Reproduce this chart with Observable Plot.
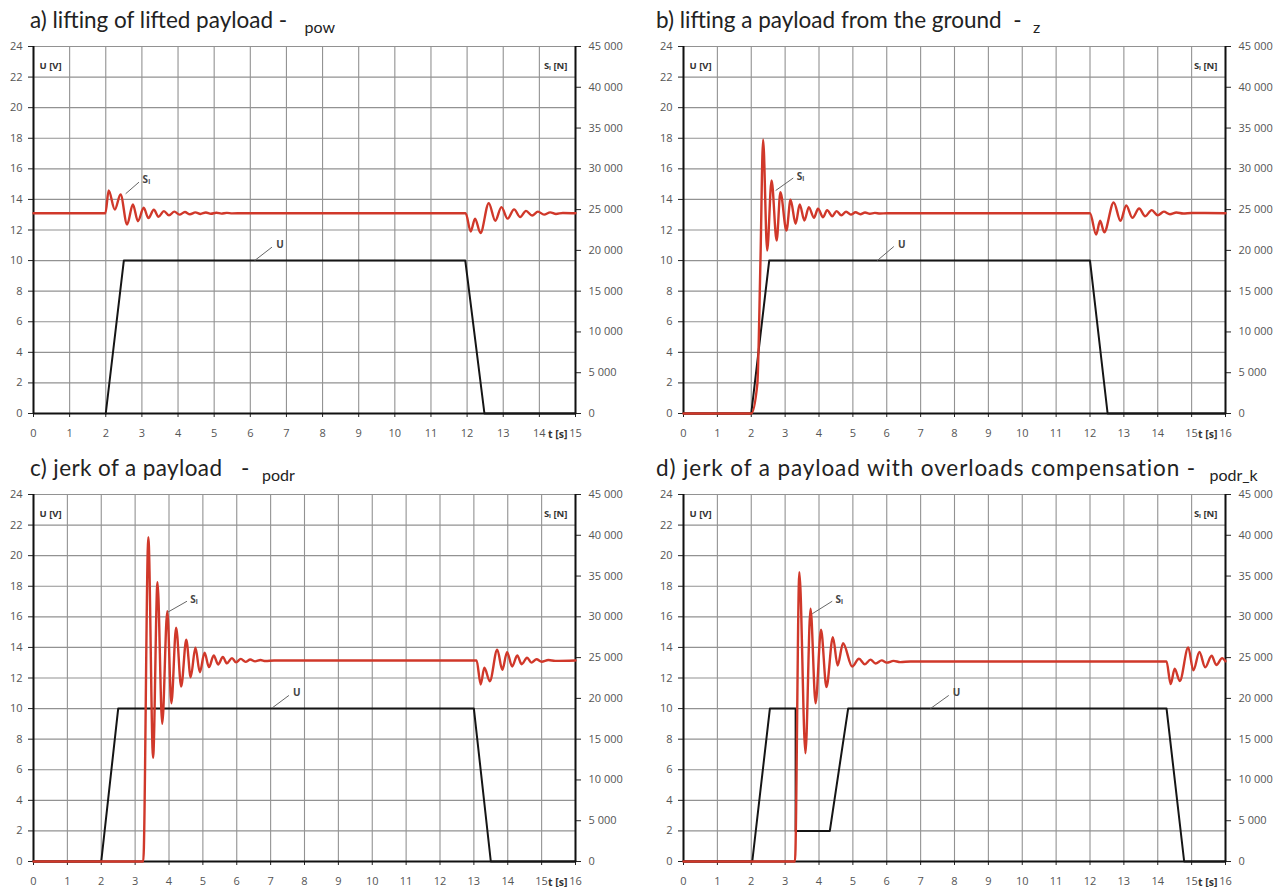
<!DOCTYPE html>
<html>
<head>
<meta charset="utf-8">
<script src="https://cdn.jsdelivr.net/npm/d3@7"></script>
<script src="https://cdn.jsdelivr.net/npm/@observablehq/plot@0.6"></script>
<style>
  html, body { margin: 0; padding: 0; background: #fff; }
  #root { position: relative; width: 1280px; height: 887px; overflow: hidden; }
  .cell { position: absolute; width: 640px; height: 448px; }
  .title { position: absolute; top: 8px; font-family: Lato, "Open Sans", sans-serif; font-size: 22.5px; line-height: 23px; color: #222; white-space: pre; }
  .title sub { font-size: 16px; vertical-align: -5px; letter-spacing: 0; }
  .cell svg { position: absolute; left: 0; top: 36px; overflow: visible; }
</style>
</head>
<body>
<div id="root"></div>
<script>
// ---------- Data ----------
// Panel a) lifting of lifted payload (x 0..15)
const aS_t = [0, 1.99, 2.08, 2.25, 2.41, 2.59, 2.75, 2.89, 3.05, 3.18, 3.33, 3.46, 3.61, 3.75, 3.9, 4.04, 4.19, 4.33, 4.48, 4.62, 4.77, 4.91, 5.06, 5.2, 5.35, 5.5, 5.8, 11.96, 12.1, 12.22, 12.37, 12.6, 12.78, 12.95, 13.12, 13.3, 13.47, 13.63, 13.8, 13.96, 14.13, 14.3, 14.46, 14.65, 15];
const aS_n = [24560, 24560, 27340, 25000, 26850, 23180, 25630, 23580, 25220, 23950, 24980, 24130, 24810, 24300, 24750, 24380, 24700, 24430, 24660, 24470, 24640, 24490, 24620, 24510, 24600, 24540, 24560, 24560, 22310, 23900, 22130, 25780, 23630, 25310, 23900, 25030, 24090, 24840, 24280, 24750, 24380, 24660, 24470, 24590, 24560];
const aU_t = [2.0, 2.5, 11.95, 12.48, 15];
const aU_v = [0, 10, 10, 0, 0];

// Panel b) lifting a payload from the ground (x 0..16)
const bS_t = [0, 2.0, 2.18, 2.27, 2.35, 2.47, 2.6, 2.75, 2.86, 3.04, 3.16, 3.31, 3.43, 3.57, 3.7, 3.85, 3.97, 4.12, 4.24, 4.39, 4.52, 4.66, 4.8, 4.94, 5.08, 5.22, 5.36, 5.5, 5.65, 5.8, 6.0, 12.0, 12.18, 12.3, 12.42, 12.7, 12.9, 13.07, 13.25, 13.45, 13.63, 13.82, 14.0, 14.18, 14.36, 14.55, 14.75, 15.0, 16];
const bS_n = [0, 0, 3640, 18380, 33560, 19990, 28570, 21210, 27140, 22440, 26210, 23260, 25630, 23670, 25300, 24000, 25100, 24070, 24940, 24190, 24820, 24300, 24740, 24380, 24680, 24440, 24640, 24490, 24600, 24520, 24560, 24560, 21940, 23630, 22220, 25880, 23630, 25500, 24000, 25130, 24190, 24940, 24300, 24750, 24440, 24640, 24520, 24580, 24560];
const bU_t = [0, 2.0, 2.53, 12.0, 12.52, 16];
const bU_v = [0, 0, 10, 10, 0, 0];

// Panel c) jerk of a payload (x 0..16)
const cS_t = [0, 3.24, 3.39, 3.53, 3.66, 3.8, 3.95, 4.07, 4.21, 4.36, 4.51, 4.64, 4.78, 4.91, 5.05, 5.18, 5.32, 5.45, 5.59, 5.71, 5.86, 5.98, 6.12, 6.26, 6.4, 6.54, 6.7, 6.85, 7.1, 13.08, 13.2, 13.31, 13.47, 13.69, 13.84, 13.98, 14.13, 14.28, 14.41, 14.57, 14.7, 14.85, 15.0, 15.2, 15.4, 16];
const cS_n = [0, 0, 39770, 12720, 34250, 16880, 30690, 19410, 28660, 21460, 27190, 22600, 26210, 23210, 25590, 23830, 25260, 24160, 25070, 24300, 24940, 24410, 24840, 24480, 24760, 24540, 24700, 24580, 24650, 24650, 21710, 23760, 22110, 25970, 23510, 25670, 23910, 25260, 24190, 24980, 24380, 24800, 24500, 24700, 24600, 24650];
const cU_t = [0, 2.0, 2.5, 13.0, 13.5, 16];
const cU_v = [0, 0, 10, 10, 0, 0];

// Panel d) jerk of a payload with overloads compensation (x 0..16)
const dS_t = [0, 3.29, 3.42, 3.6, 3.75, 3.9, 4.06, 4.22, 4.41, 4.55, 4.71, 4.98, 5.18, 5.35, 5.52, 5.67, 5.85, 6.0, 6.2, 6.4, 6.7, 14.26, 14.38, 14.5, 14.65, 14.9, 15.05, 15.23, 15.4, 15.59, 15.73, 15.9, 16];
const dS_n = [0, 0, 35480, 13280, 30990, 19410, 28410, 21380, 27510, 24040, 26770, 23910, 24860, 24190, 24750, 24280, 24660, 24380, 24600, 24450, 24520, 24520, 21750, 23630, 22130, 26250, 23440, 25690, 23810, 25220, 24090, 24940, 24560];
const dU_t = [0, 2.03, 2.55, 3.31, 3.31, 4.32, 4.86, 14.26, 14.78, 16];
const dU_v = [0, 0, 10, 10, 2, 2, 10, 10, 0, 0];

// Axis ticks
const uTicks = [0, 2, 4, 6, 8, 10, 12, 14, 16, 18, 20, 22, 24];
const sTicks = [0, 5000, 10000, 15000, 20000, 25000, 30000, 35000, 40000, 45000];
const uMax = 24, sMax = 45000;

// Annotation leaders [t1, v1, t2, v2] and label position [t, v]
const aLeadS = [2.55, 14.37, 2.92, 15.13], aLabS = [3.02, 15.3];
const aLeadU = [6.12, 10.0, 6.6, 10.88], aLabU = [6.72, 11.0];
const bLeadS = [2.72, 14.58, 3.24, 15.4], bLabS = [3.34, 15.5];
const bLeadU = [5.72, 10.0, 6.21, 10.92], bLabU = [6.33, 11.0];
const cLeadS = [3.96, 16.3, 4.53, 17.02], cLabS = [4.63, 17.1];
const cLeadU = [7.05, 10.05, 7.54, 10.86], cLabU = [7.66, 11.0];
const dLeadS = [3.8, 16.2, 4.39, 17.02], dLabS = [4.49, 17.1];
const dLeadU = [7.29, 10.0, 7.83, 10.86], dLabU = [7.95, 11.0];

const titles = [
  ["a) lifting of lifted payload -\u00a0\u00a0", "pow"],
  ["b) lifting a payload from the ground  - ", "z"],
  ["c) jerk of a payload   - ", "podr"],
  ["d) jerk of a payload with overloads compensation - ", "podr_k"]
];

// ---------- Drawing ----------
const locale = d3.formatLocale({decimal: ".", thousands: " ", grouping: [3], currency: ["", ""]});
const fmtN = locale.format(",");
const ratio = sMax / uMax;

const panels = [
  {id: "a", left: 0, top: 0, xmax: 15, ml: 33, mr: 65, St: aS_t, Sn: aS_n, Ut: aU_t, Uv: aU_v, leadS: aLeadS, labS: aLabS, leadU: aLeadU, labU: aLabU},
  {id: "b", left: 640, top: 0, xmax: 16, ml: 43, mr: 55, St: bS_t, Sn: bS_n, Ut: bU_t, Uv: bU_v, leadS: bLeadS, labS: bLabS, leadU: bLeadU, labU: bLabU},
  {id: "c", left: 0, top: 448, xmax: 16, ml: 33, mr: 65, St: cS_t, Sn: cS_n, Ut: cU_t, Uv: cU_v, leadS: cLeadS, labS: cLabS, leadU: cLeadU, labU: cLabU},
  {id: "d", left: 640, top: 448, xmax: 16, ml: 43, mr: 55, St: dS_t, Sn: dS_n, Ut: dU_t, Uv: dU_v, leadS: dLeadS, labS: dLabS, leadU: dLeadU, labU: dLabU}
];

const root = document.getElementById("root");
panels.forEach((p, i) => {
  const cell = document.createElement("div");
  cell.className = "cell";
  cell.style.left = p.left + "px";
  cell.style.top = p.top + "px";
  const t = document.createElement("div");
  t.className = "title";
  t.style.left = (i % 2 === 0 ? 30 : 16) + "px";
  if (p.id === "d") t.style.letterSpacing = "0.9px";
  if (p.id === "c") t.style.letterSpacing = "0.4px";
  t.innerHTML = titles[i][0] + " <sub>" + titles[i][1] + "</sub>";
  cell.appendChild(t);

  const sData = p.St.map((tt, k) => ({t: tt, s: p.Sn[k]}));
  const uData = p.Ut.map((tt, k) => ({t: tt, u: p.Uv[k]}));
  const xTicks = d3.range(0, p.xmax + 1);
  const sTicksV = sTicks.map(n => n / ratio);
  const leads = [
    {x1: p.leadS[0], y1: p.leadS[1], x2: p.leadS[2], y2: p.leadS[3]},
    {x1: p.leadU[0], y1: p.leadU[1], x2: p.leadU[2], y2: p.leadU[3]}
  ];
  const labs = [
    {x: p.labS[0], y: p.labS[1], text: "S\u2097"},
    {x: p.labU[0], y: p.labU[1], text: "U"}
  ];

  const chart = Plot.plot({
    width: 640,
    height: p.top === 0 ? 412 : 403,
    marginLeft: p.ml,
    marginRight: p.mr,
    marginTop: 10,
    marginBottom: p.top === 0 ? 35 : 26,
    x: {domain: [0, p.xmax]},
    y: {domain: [0, uMax]},
    style: {fontFamily: "'Open Sans', sans-serif", fontSize: "11px", color: "#444", background: "transparent", overflow: "visible"},
    marks: [
      Plot.gridX(xTicks, {stroke: "#929292", strokeOpacity: 1, strokeWidth: 1.1}),
      Plot.gridY(uTicks, {stroke: "#929292", strokeOpacity: 1, strokeWidth: 1.1}),
      Plot.axisX(xTicks, {tickSize: 4, tickPadding: 12, label: null, stroke: "#222", fill: "#555"}),
      Plot.axisY(uTicks, {anchor: "left", tickSize: 5, tickPadding: 6, label: null, stroke: "#222", fill: "#555"}),
      Plot.axisY(sTicksV, {anchor: "right", tickSize: 5, tickPadding: 8, label: null, stroke: "#222", fill: "#555",
        tickFormat: v => fmtN(Math.round(v * ratio))}),
      Plot.ruleX([0, p.xmax], {stroke: "#111", strokeWidth: 2}),
      Plot.ruleY([0], {stroke: "#111", strokeWidth: 2}),
      Plot.line(uData, {x: "t", y: "u", stroke: "#151515", strokeWidth: 2}),
      Plot.line(sData, {x: "t", y: d => d.s / ratio, curve: "monotone-x", stroke: "#d0382a", strokeWidth: 2.4}),
      Plot.link(leads, {x1: "x1", y1: "y1", x2: "x2", y2: "y2", stroke: "#666", strokeWidth: 1}),
      Plot.text(labs, {x: "x", y: "y", text: "text", textAnchor: "start", fontSize: 10, fontWeight: "bold", fill: "#444"}),
      Plot.text(["U [V]"], {frameAnchor: "top-left", dx: 6, dy: 16, textAnchor: "start", fontSize: 9.5, fontWeight: "bold", fill: "#333"}),
      Plot.text(["S\u2097 [N]"], {frameAnchor: "top-right", dx: -8, dy: 16, textAnchor: "end", fontSize: 9.5, fontWeight: "bold", fill: "#333"}),
      Plot.text(["t [s]"], {frameAnchor: "bottom-right", dx: -8, dy: 24, textAnchor: "end", fontSize: 10.5, fontWeight: "bold", fill: "#333"})
    ]
  });
  cell.appendChild(chart);
  root.appendChild(cell);
});
</script>
</body>
</html>
